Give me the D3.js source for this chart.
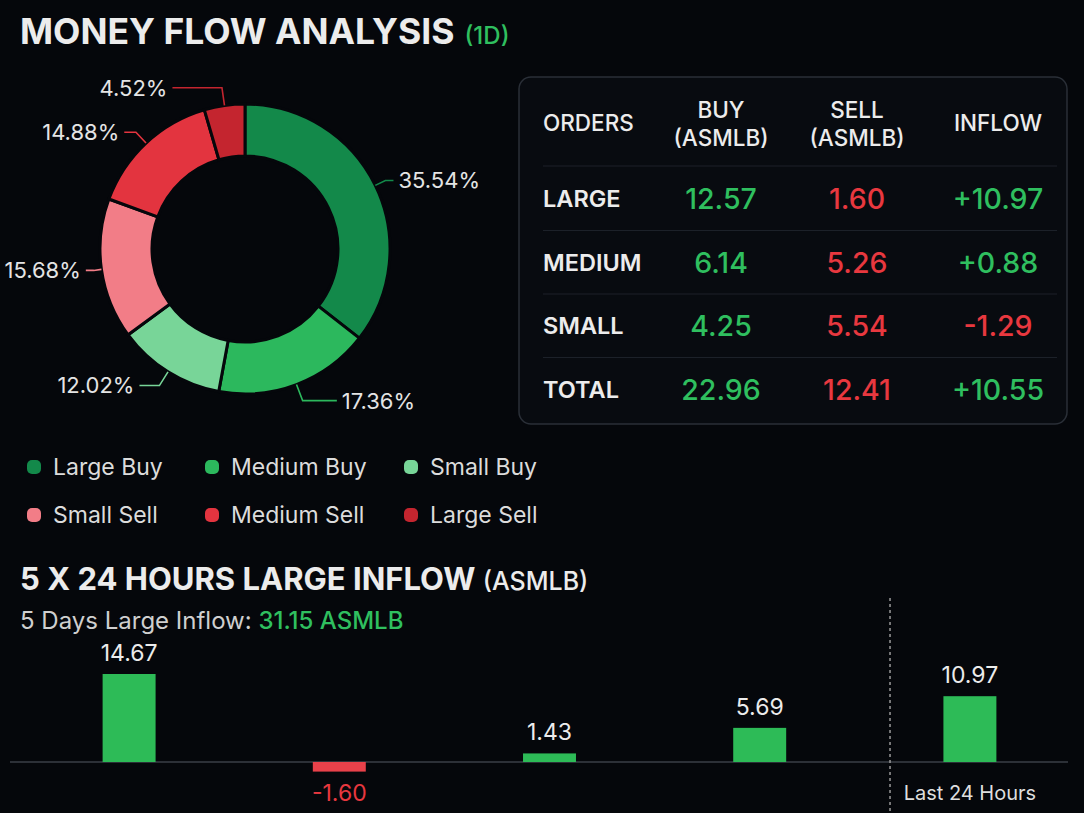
<!DOCTYPE html>
<html>
<head>
<meta charset="utf-8">
<script src="https://cdn.jsdelivr.net/npm/d3@7"></script>
<style>
  html, body { margin: 0; padding: 0; background: #05070b; }
  svg { display: block; }
  text { font-family: Inter, Roboto, "Noto Sans", sans-serif; }
</style>
</head>
<body>
<svg id="chart" width="1084" height="813"></svg>
<script>
// ---------- DATA ----------
const sliceLabels = ["Large Buy", "Medium Buy", "Small Buy", "Small Sell", "Medium Sell", "Large Sell"];
const slicePercents = [35.54, 17.36, 12.02, 15.68, 14.88, 4.52];
const legendOrder = ["Large Buy", "Medium Buy", "Small Buy", "Small Sell", "Medium Sell", "Large Sell"];

const tableHeaders = [["ORDERS"], ["BUY", "(ASMLB)"], ["SELL", "(ASMLB)"], ["INFLOW"]];
const orderRows = ["LARGE", "MEDIUM", "SMALL", "TOTAL"];
const buyValues = [12.57, 6.14, 4.25, 22.96];
const sellValues = [1.60, 5.26, 5.54, 12.41];
const inflowValues = [10.97, 0.88, -1.29, 10.55];

const dayLabels = ["Day 1", "Day 2", "Day 3", "Day 4", "Last 24 Hours"];
const dayInflow = [14.67, -1.60, 1.43, 5.69, 10.97];
const fiveDayTotal = 31.15;
const unit = "ASMLB";

// ---------- STYLE ----------
const sliceColors = ["#13894a", "#2cb85d", "#78d598", "#f27d87", "#e3343f", "#c4252f"];
const GREEN = "#2fbf5f", RED = "#e8383f", WHITE = "#ececec", BG = "#05070b";

const loc = d3.formatLocale({decimal: ".", thousands: ",", grouping: [3], currency: ["$", ""], minus: "-"});
const f2 = loc.format(".2f"), fs2 = loc.format("+.2f");

const svg = d3.select("#chart");
svg.append("rect").attr("width", 1084).attr("height", 813).attr("fill", BG);

// ---------- TITLE ----------
const title = svg.append("text").attr("x", 20).attr("y", 44)
  .attr("font-size", 35.5).attr("font-weight", 700).attr("fill", WHITE);
title.append("tspan").text("MONEY FLOW ANALYSIS");
title.append("tspan").attr("dx", 10).attr("font-size", 24).attr("font-weight", 500).attr("fill", GREEN).text("(1D)");

// ---------- DONUT ----------
const cx = 245, cy = 249, R = 145, r0 = 93;
const pie = d3.pie().sort(null).value(d => d)(slicePercents);
const arc = d3.arc().innerRadius(r0).outerRadius(R);
const gD = svg.append("g").attr("transform", `translate(${cx},${cy})`);
gD.selectAll("path.slice").data(pie).join("path").attr("class", "slice")
  .attr("d", arc).attr("fill", (d, i) => sliceColors[i])
  .attr("stroke", BG).attr("stroke-width", 3);

pie.forEach((d, i) => {
  const a = (d.startAngle + d.endAngle) / 2;
  const s = Math.sin(a), c = Math.cos(a);
  const side = s >= 0 ? 1 : -1;
  const r1 = R + 6 + 12 * Math.abs(c);
  const len = 8 + 45 * Math.pow(Math.abs(c), 8);
  const p0 = [s * R, -c * R];
  const p1 = [s * r1, -c * r1];
  const p2 = [p1[0] + side * len, p1[1]];
  gD.append("path").attr("d", d3.line()([p0, p1, p2]))
    .attr("fill", "none").attr("stroke", sliceColors[i]).attr("stroke-width", 1.6);
  gD.append("text").attr("x", p2[0] + side * 5).attr("y", p2[1])
    .attr("dy", "0.36em").attr("text-anchor", side > 0 ? "start" : "end")
    .attr("font-size", 22).attr("fill", "#e4e4e4").text(f2(slicePercents[i]) + "%");
});

// ---------- TABLE ----------
const tb = {x: 519, y: 77, w: 548, h: 347};
svg.append("rect").attr("x", tb.x).attr("y", tb.y).attr("width", tb.w).attr("height", tb.h)
  .attr("rx", 12).attr("fill", "#080b10").attr("stroke", "#2a2f37").attr("stroke-width", 1.5);
const colX = [543, 721, 857, 998];
const rowY = d3.scaleBand().domain(orderRows).range([167, 421]);
// header
tableHeaders.forEach((lines, j) => {
  const t = svg.append("text").attr("x", colX[j]).attr("y", lines.length === 1 ? 123 : 110)
    .attr("text-anchor", j === 0 ? "start" : "middle")
    .attr("font-size", 22.5).attr("font-weight", 500).attr("fill", WHITE);
  lines.forEach((ln, k) => t.append("tspan").attr("x", colX[j]).attr("dy", k === 0 ? "0.36em" : 28).text(ln));
});
// separators
[166].concat(orderRows.slice(1).map(r => rowY(r))).forEach(y => {
  svg.append("line").attr("x1", 543).attr("x2", 1057).attr("y1", y).attr("y2", y)
    .attr("stroke", "#1c2129").attr("stroke-width", 1.2);
});
orderRows.forEach((r, i) => {
  const y = rowY(r) + rowY.bandwidth() / 2;
  svg.append("text").attr("x", colX[0]).attr("y", y).attr("dy", "0.36em")
    .attr("font-size", 23.5).attr("font-weight", 600).attr("fill", WHITE).text(r);
  svg.append("text").attr("x", colX[1]).attr("y", y).attr("dy", "0.36em").attr("text-anchor", "middle")
    .attr("font-size", 28.5).attr("font-weight", 500).attr("fill", GREEN).text(f2(buyValues[i]));
  svg.append("text").attr("x", colX[2]).attr("y", y).attr("dy", "0.36em").attr("text-anchor", "middle")
    .attr("font-size", 28.5).attr("font-weight", 500).attr("fill", RED).text(f2(sellValues[i]));
  svg.append("text").attr("x", colX[3]).attr("y", y).attr("dy", "0.36em").attr("text-anchor", "middle")
    .attr("font-size", 28.5).attr("font-weight", 500).attr("fill", inflowValues[i] >= 0 ? GREEN : RED)
    .text(fs2(inflowValues[i]));
});

// ---------- LEGEND ----------
const legX = [27, 205, 404], legY = [467, 515];
legendOrder.forEach((name, i) => {
  const ci = sliceLabels.indexOf(name);
  const x = legX[i % 3], y = legY[Math.floor(i / 3)];
  svg.append("rect").attr("x", x).attr("y", y - 7).attr("width", 14).attr("height", 14)
    .attr("rx", 5).attr("fill", sliceColors[ci]);
  svg.append("text").attr("x", x + 26).attr("y", y).attr("dy", "0.36em")
    .attr("font-size", 23).attr("fill", "#dcdcdc").text(name);
});

// ---------- SECTION 2 ----------
const t2 = svg.append("text").attr("x", 20).attr("y", 590).attr("font-size", 31)
  .attr("font-weight", 700).attr("fill", WHITE);
t2.append("tspan").text("5 X 24 HOURS LARGE INFLOW ");
t2.append("tspan").attr("font-size", 25).attr("font-weight", 500).text(`(${unit})`);
const st = svg.append("text").attr("x", 20).attr("y", 629).attr("font-size", 24).attr("fill", "#cfcfcf");
st.append("tspan").text("5 Days Large Inflow: ");
st.append("tspan").attr("fill", GREEN).attr("font-weight", 500).text(`${f2(fiveDayTotal)} ${unit}`);

const x = d3.scaleBand().domain(dayLabels).range([24, 1075]).paddingInner(0.748).paddingOuter(0.374);
const y = d3.scaleLinear().domain([0, d3.max(dayInflow)]).range([762, 674]);

svg.append("line").attr("x1", 10).attr("x2", 1068).attr("y1", y(0)).attr("y2", y(0))
  .attr("stroke", "#3a3f47").attr("stroke-width", 1.5);
const lastX = x(dayLabels[4]) + x.bandwidth() / 2 - x.step() * 0.38;
svg.append("line").attr("x1", lastX).attr("x2", lastX).attr("y1", 598).attr("y2", 813)
  .attr("stroke", "#9a9a9a").attr("stroke-width", 1.5).attr("stroke-dasharray", "3,3");

svg.selectAll("rect.bar").data(dayInflow).join("rect").attr("class", "bar")
  .attr("x", (d, i) => x(dayLabels[i])).attr("width", x.bandwidth())
  .attr("y", d => Math.min(y(d), y(0))).attr("height", d => Math.abs(y(d) - y(0)))
  .attr("fill", d => d >= 0 ? "#2dbb57" : "#e8414a");
svg.selectAll("text.blab").data(dayInflow).join("text").attr("class", "blab")
  .attr("x", (d, i) => x(dayLabels[i]) + x.bandwidth() / 2)
  .attr("y", d => d >= 0 ? y(d) - 13 : y(d) + 29)
  .attr("text-anchor", "middle").attr("font-size", 23)
  .attr("fill", d => d >= 0 ? WHITE : RED).text(d => f2(d));
svg.append("text").attr("x", x(dayLabels[4]) + x.bandwidth() / 2).attr("y", 800)
  .attr("text-anchor", "middle").attr("font-size", 20).attr("fill", "#dedede").text(dayLabels[4]);
</script>
</body>
</html>
